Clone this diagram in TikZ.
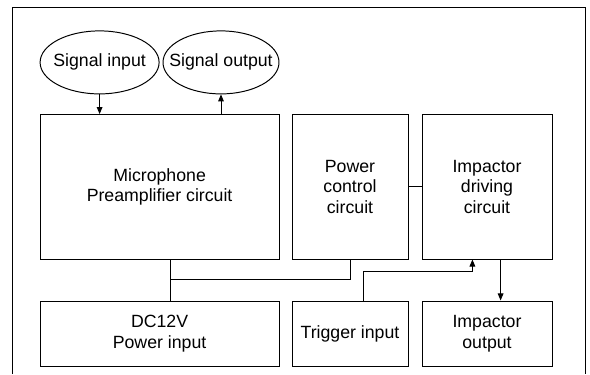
\documentclass[tikz,border=0pt]{standalone}
\usepackage{fontspec}
\setmainfont{Liberation Sans}
\usepackage{tikz}
\usetikzlibrary{arrows.meta, positioning, shapes.geometric}

\begin{document}
\begin{tikzpicture}[line width=0.7pt,
  >={Triangle[length=5pt,width=4pt]},
  every node/.style={font=\fontsize{12.6pt}{14.6pt}\selectfont, align=center, inner sep=0pt},
  block/.style={draw, rectangle, minimum height=3.61cm},
  lowblock/.style={draw, rectangle, minimum height=1.625cm},
  port/.style={draw, ellipse, minimum height=1.575cm}]
\useasboundingbox (0,0) rectangle (14.75,9.35);
\draw (0.3,0) -- (0.3,9.175) -- (14.625,9.175) -- (14.625,0);
\node[port, minimum width=2.975cm, label=center:Signal input] (sigin) at (2.49,7.79) {};
\node[port, minimum width=2.9cm, label=center:Signal output] (sigout) at (5.525,7.79) {};
\node[block, minimum width=5.975cm] (mic) at (3.99,4.68) {Microphone\\Preamplifier circuit};
\node[block, minimum width=2.9cm] (pwr) at (8.75,4.68) {Power\\control\\circuit};
\node[block, minimum width=3.25cm] (drv) at (12.175,4.68) {Impactor\\driving\\circuit};
\node[lowblock, minimum width=5.975cm] (dc) at (3.99,1.0125) {DC12V\\Power input};
\node[lowblock, minimum width=2.9cm] (trig) at (8.75,1.0125) {Trigger input};
\node[lowblock, minimum width=3.25cm] (out) at (12.175,1.0125) {Impactor\\output};
\coordinate (junc) at (4.25,2.375);
\coordinate (bend) at (11.81,2.575);
\draw[->] (sigin.south) -- (sigin.south |- mic.north);
\draw[->] (sigout.south |- mic.north) -- (sigout.south);
\draw (pwr.east) -- (drv.west);
\draw (junc |- mic.south) -- (junc |- dc.north);
\draw (pwr.south) |- (junc);
\draw[->] ([xshift=0.34cm]trig.north) |- (bend) -- (bend |- drv.south);
\draw[->] ([xshift=0.34cm]drv.south) -- ([xshift=0.34cm]drv.south |- out.north);
\end{tikzpicture}
\end{document}
